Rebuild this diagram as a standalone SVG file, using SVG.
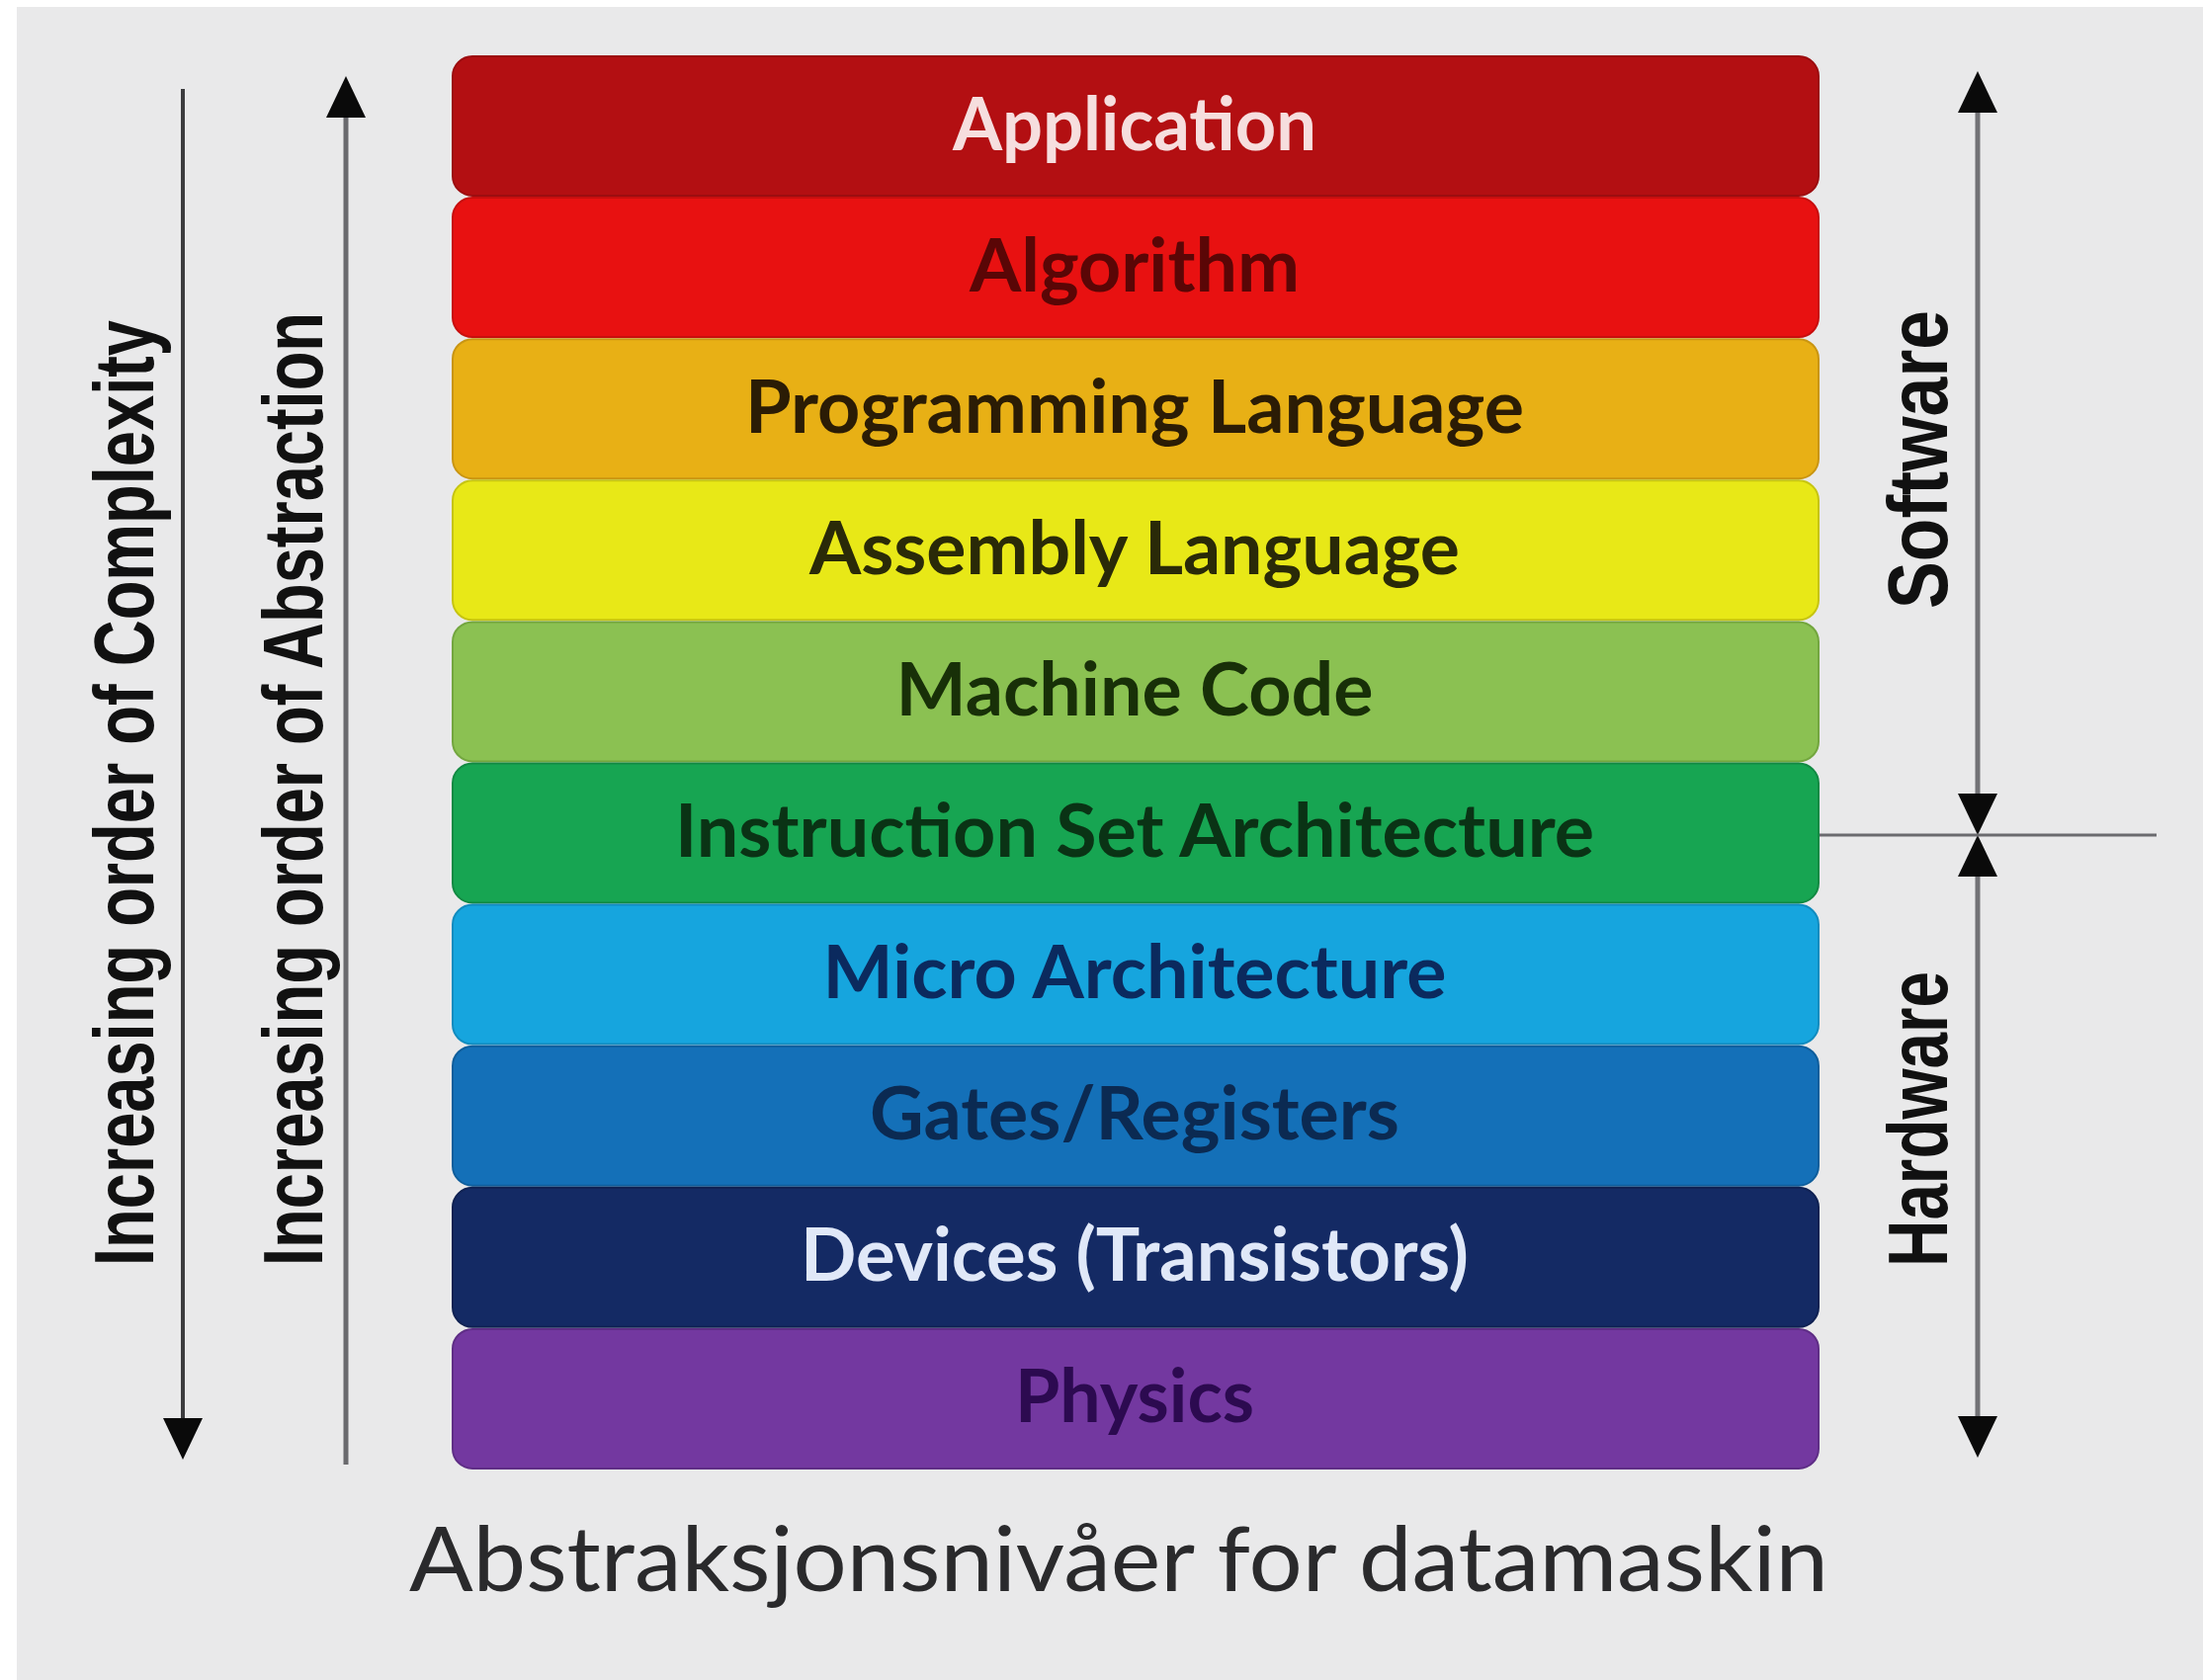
<svg xmlns="http://www.w3.org/2000/svg" width="2229" height="1700" viewBox="0 0 2229 1700">
  <style>
    .bar { stroke-width: 2; }
    .lbl { font-family: Lato, "Open Sans", sans-serif; font-weight: 700; font-size: 74px; text-anchor: middle; }
    .side { font-family: "Liberation Sans Narrow", "Liberation Sans", Arial, sans-serif; font-weight: 700; font-size: 86px; fill: #111; }
    .cap { font-family: Lato, "Open Sans", sans-serif; font-weight: 400; font-size: 91px; fill: #2a2a2c; }
    .axis { fill: none; stroke-linecap: butt; }
  </style>
  <defs>
    <marker id="head" markerUnits="userSpaceOnUse" viewBox="0 0 42 40" markerWidth="42" markerHeight="40" refX="20" refY="20" orient="auto-start-reverse">
      <path d="M0,0 L42,20 L0,40 Z" fill="#0a0a0a"/>
    </marker>
  </defs>

  <rect x="0" y="0" width="2229" height="1700" fill="#ffffff"/>
  <rect x="17" y="7" width="2212" height="1693" fill="#e9e9ea"/>

  <g id="layers">
    <g id="application">
      <rect class="bar" x="458" y="57" width="1382" height="141" rx="20" fill="#b30f12" stroke="#9c0d10"/>
      <text class="lbl" x="1148" y="151.5" textLength="368" lengthAdjust="spacingAndGlyphs" fill="#f6dede">Application</text>
    </g>
    <g id="algorithm">
      <rect class="bar" x="458" y="200.1" width="1382" height="141" rx="20" fill="#e81111" stroke="#c80e0e"/>
      <text class="lbl" x="1148" y="294.6" textLength="334" lengthAdjust="spacingAndGlyphs" fill="#5a0606">Algorithm</text>
    </g>
    <g id="programming-language">
      <rect class="bar" x="458" y="343.2" width="1382" height="141" rx="20" fill="#e8b015" stroke="#c99512"/>
      <text class="lbl" x="1148" y="437.7" textLength="788" lengthAdjust="spacingAndGlyphs" fill="#2b1c05">Programming Language</text>
    </g>
    <g id="assembly-language">
      <rect class="bar" x="458" y="486.3" width="1382" height="141" rx="20" fill="#e8e817" stroke="#c6c412"/>
      <text class="lbl" x="1148" y="580.8" textLength="658" lengthAdjust="spacingAndGlyphs" fill="#2a2a08">Assembly Language</text>
    </g>
    <g id="machine-code">
      <rect class="bar" x="458" y="629.4" width="1382" height="141" rx="20" fill="#8bc152" stroke="#73a63f"/>
      <text class="lbl" x="1148" y="723.9" textLength="483" lengthAdjust="spacingAndGlyphs" fill="#183008">Machine Code</text>
    </g>
    <g id="instruction-set-architecture">
      <rect class="bar" x="458" y="772.5" width="1382" height="141" rx="20" fill="#17a552" stroke="#128a43"/>
      <text class="lbl" x="1148" y="867" textLength="930" lengthAdjust="spacingAndGlyphs" fill="#0a3315">Instruction Set Architecture</text>
    </g>
    <g id="micro-architecture">
      <rect class="bar" x="458" y="915.6" width="1382" height="141" rx="20" fill="#16a5de" stroke="#128cbf"/>
      <text class="lbl" x="1148" y="1010.1" textLength="631" lengthAdjust="spacingAndGlyphs" fill="#0b2a5e">Micro Architecture</text>
    </g>
    <g id="gates-registers">
      <rect class="bar" x="458" y="1058.7" width="1382" height="141" rx="20" fill="#1470b8" stroke="#0f5e9c"/>
      <text class="lbl" x="1148" y="1153.2" textLength="536" lengthAdjust="spacingAndGlyphs" fill="#0b2a52">Gates/Registers</text>
    </g>
    <g id="devices">
      <rect class="bar" x="458" y="1201.8" width="1382" height="141" rx="20" fill="#142a64" stroke="#0f2152"/>
      <text class="lbl" x="1148" y="1296.3" textLength="676" lengthAdjust="spacingAndGlyphs" fill="#e0e8f8">Devices (Transistors)</text>
    </g>
    <g id="physics">
      <rect class="bar" x="458" y="1344.9" width="1382" height="141" rx="20" fill="#7338a0" stroke="#5f2e86"/>
      <text class="lbl" x="1148" y="1439.4" textLength="242" lengthAdjust="spacingAndGlyphs" fill="#2c0a50">Physics</text>
    </g>
  </g>

  <g id="side-labels">
    <text class="side" transform="translate(155,1281) rotate(-90)" x="0" y="0" textLength="957" lengthAdjust="spacingAndGlyphs">Increasing order of Complexity</text>
    <text class="side" transform="translate(326,1281) rotate(-90)" x="0" y="0" textLength="965" lengthAdjust="spacingAndGlyphs">Increasing order of Abstraction</text>
    <text class="side" transform="translate(1970,616) rotate(-90)" x="0" y="0" textLength="302" lengthAdjust="spacingAndGlyphs">Software</text>
    <text class="side" transform="translate(1970,1282) rotate(-90)" x="0" y="0" textLength="299" lengthAdjust="spacingAndGlyphs">Hardware</text>
  </g>

  <g id="connectors">
    <line class="axis" x1="185" y1="90" x2="185" y2="1455" stroke="#3c3c3e" stroke-width="4" marker-end="url(#head)"/>
    <line class="axis" x1="350" y1="1482" x2="350" y2="99" stroke="#6a6a6e" stroke-width="5" marker-end="url(#head)"/>
    <line class="axis" x1="2001" y1="94" x2="2001" y2="823" stroke="#727276" stroke-width="5" marker-start="url(#head)" marker-end="url(#head)"/>
    <line class="axis" x1="2001" y1="867" x2="2001" y2="1453" stroke="#727276" stroke-width="5" marker-start="url(#head)" marker-end="url(#head)"/>
    <line class="axis" x1="1841" y1="845" x2="2182" y2="845" stroke="#6a6a6e" stroke-width="3"/>
  </g>

  <g id="caption">
    <text class="cap" x="414" y="1610" textLength="1436" lengthAdjust="spacingAndGlyphs">Abstraksjonsnivåer for datamaskin</text>
  </g>
</svg>
